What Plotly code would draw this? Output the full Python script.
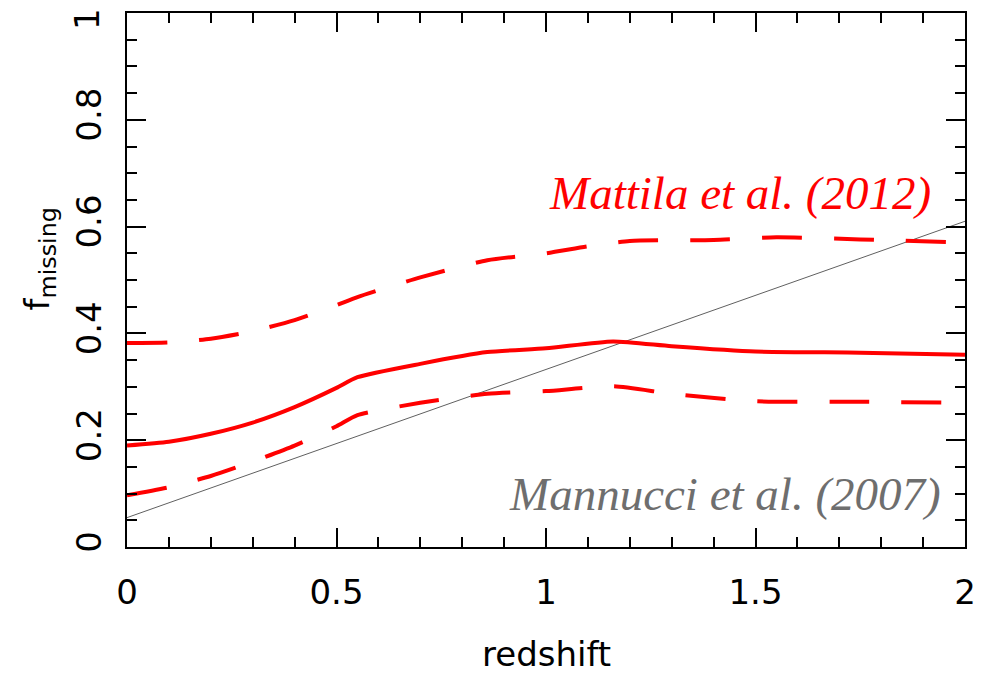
import plotly.graph_objects as go

# Mattila et al. (2012) central curve and bounds
z_mid = [0.0, 0.1, 0.2, 0.3, 0.4, 0.5, 0.55, 0.7, 0.86, 1.0, 1.16, 1.3, 1.5, 1.75, 2.0]
f_mid = [0.19, 0.197, 0.212, 0.233, 0.262, 0.298, 0.318, 0.343, 0.365, 0.372, 0.385, 0.376, 0.366, 0.364, 0.360]

z_up = [0.0, 0.1, 0.2, 0.3, 0.4, 0.5, 0.55, 0.7, 0.86, 1.0, 1.1, 1.2, 1.4, 1.55, 1.75, 2.0]
f_up = [0.382, 0.383, 0.39, 0.404, 0.425, 0.453, 0.468, 0.505, 0.537, 0.55, 0.563, 0.573, 0.575, 0.58, 0.576, 0.570]

z_lo = [0.0, 0.1, 0.2, 0.3, 0.4, 0.5, 0.55, 0.7, 0.86, 1.0, 1.16, 1.3, 1.5, 1.75, 2.0]
f_lo = [0.097, 0.112, 0.133, 0.160, 0.190, 0.226, 0.247, 0.270, 0.287, 0.292, 0.301, 0.287, 0.273, 0.272, 0.270]

# Mannucci et al. (2007) linear relation
z_man = [0.0, 2.0]
f_man = [0.055, 0.61]

x_ticks = [0, 0.5, 1, 1.5, 2]
x_labels = ["0", "0.5", "1", "1.5", "2"]
y_ticks = [0, 0.2, 0.4, 0.6, 0.8, 1]
y_labels = ["0", "0.2", "0.4", "0.6", "0.8", ""]
y_top_label = "1"   # drawn separately, nudged inside the page like the reference

RED = "#ff0000"
GRAY = "#6e6e6e"

fig = go.Figure()
fig.add_trace(go.Scatter(x=z_man, y=f_man, mode="lines",
                         line=dict(color="#606060", width=1), showlegend=False))
fig.add_trace(go.Scatter(x=z_up, y=f_up, mode="lines",
                         line=dict(color=RED, width=4, dash="40px,32px", shape="spline", smoothing=0.6),
                         showlegend=False))
fig.add_trace(go.Scatter(x=z_lo, y=f_lo, mode="lines",
                         line=dict(color=RED, width=4, dash="40px,32px", shape="spline", smoothing=0.6),
                         showlegend=False))
fig.add_trace(go.Scatter(x=z_mid, y=f_mid, mode="lines",
                         line=dict(color=RED, width=4, shape="spline", smoothing=0.6),
                         showlegend=False))

tickfont = dict(family="DejaVu Sans", size=34, color="black")

fig.update_xaxes(range=[0, 2], tickvals=x_ticks, ticktext=x_labels, automargin=False,
                 ticks="inside", ticklen=19, tickwidth=2, tickcolor="black",
                 showline=True, linewidth=2, linecolor="black", mirror="ticks",
                 showgrid=False, zeroline=False, tickfont=tickfont, ticklabelstandoff=14,
                 ticklabeloverflow="allow",
                 minor=dict(dtick=0.1, ticks="inside", ticklen=10, tickwidth=2, tickcolor="black", showgrid=False))
fig.update_yaxes(range=[0, 1.00001], tickvals=y_ticks, ticktext=y_labels, automargin=False,
                 ticks="inside", ticklen=19, tickwidth=2, tickcolor="black", tickangle=-90,
                 showline=True, linewidth=2, linecolor="black", mirror="ticks",
                 showgrid=False, zeroline=False, tickfont=tickfont, ticklabelstandoff=10,
                 ticklabeloverflow="allow",
                 minor=dict(dtick=0.05, ticks="inside", ticklen=10, tickwidth=2, tickcolor="black", showgrid=False))

fig.add_annotation(text=y_top_label, x=-0.047, y=0.988, xref="paper", yref="paper",
                   xanchor="center", yanchor="middle", showarrow=False, textangle=-90,
                   font=tickfont)
fig.add_annotation(text="Mattila et al. (2012)", x=1.924, y=0.663, xref="x", yref="y",
                   xanchor="right", yanchor="middle", showarrow=False,
                   font=dict(family="Liberation Serif", size=47, color=RED, style="italic"))
fig.add_annotation(text="Mannucci et al. (2007)", x=1.947, y=0.099, xref="x", yref="y",
                   xanchor="right", yanchor="middle", showarrow=False,
                   font=dict(family="Liberation Serif", size=47, color=GRAY, style="italic"))
fig.add_annotation(text="redshift", x=0.5, y=-0.2, xref="paper", yref="paper",
                   xanchor="center", yanchor="middle", showarrow=False,
                   font=dict(family="DejaVu Sans", size=34, color="black"))
fig.add_annotation(text="f<sub>missing</sub>", x=-0.104, y=0.54, xref="paper", yref="paper",
                   xanchor="center", yanchor="middle", showarrow=False, textangle=-90,
                   font=dict(family="DejaVu Sans", size=34, color="black"))

fig.update_layout(width=990, height=674, margin=dict(l=127, r=25, t=13, b=127, autoexpand=False),
                  plot_bgcolor="white", paper_bgcolor="white", showlegend=False)

fig.write_html("out.html")
